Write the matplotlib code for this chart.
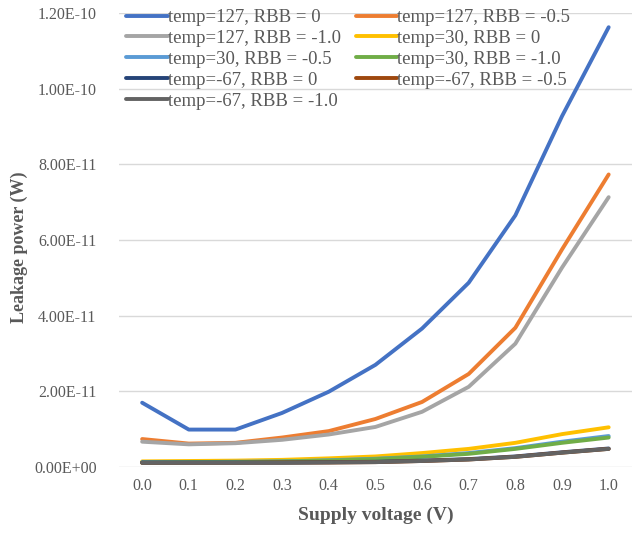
import numpy as np
import matplotlib.pyplot as plt
from matplotlib.ticker import FuncFormatter

plt.rcParams['font.family'] = ['Liberation Serif', 'DejaVu Serif']

voltage = ['0.0', '0.1', '0.2', '0.3', '0.4', '0.5', '0.6', '0.7', '0.8', '0.9', '1.0']

# leakage power in units of 1e-11 W
t127_rbb0 = [1.70, 0.99, 0.99, 1.43, 1.99, 2.70, 3.66, 4.87, 6.65, 9.27, 11.62]
t127_rbb05 = [0.74, 0.62, 0.64, 0.78, 0.95, 1.27, 1.72, 2.46, 3.68, 5.75, 7.73]
t127_rbb10 = [0.67, 0.60, 0.63, 0.72, 0.86, 1.06, 1.46, 2.12, 3.26, 5.27, 7.13]
t30_rbb0 = [0.15, 0.16, 0.17, 0.19, 0.23, 0.28, 0.37, 0.48, 0.64, 0.87, 1.05]
t30_rbb05 = [0.13, 0.13, 0.14, 0.15, 0.18, 0.22, 0.28, 0.37, 0.50, 0.67, 0.82]
t30_rbb10 = [0.12, 0.13, 0.13, 0.15, 0.17, 0.21, 0.27, 0.35, 0.48, 0.64, 0.78]
tm67_rbb0 = [0.12, 0.12, 0.12, 0.12, 0.13, 0.14, 0.17, 0.21, 0.28, 0.39, 0.49]
tm67_rbb05 = [0.11, 0.11, 0.11, 0.12, 0.12, 0.13, 0.16, 0.20, 0.27, 0.38, 0.48]
tm67_rbb10 = [0.11, 0.11, 0.11, 0.11, 0.12, 0.13, 0.16, 0.20, 0.27, 0.38, 0.48]

labels = ['temp=127, RBB = 0', 'temp=127, RBB = -0.5', 'temp=127, RBB = -1.0',
          'temp=30, RBB = 0', 'temp=30, RBB = -0.5', 'temp=30, RBB = -1.0',
          'temp=-67, RBB = 0', 'temp=-67, RBB = -0.5', 'temp=-67, RBB = -1.0']
series = [t127_rbb0, t127_rbb05, t127_rbb10, t30_rbb0, t30_rbb05, t30_rbb10,
          tm67_rbb0, tm67_rbb05, tm67_rbb10]
colors = ['#4472C4', '#ED7D31', '#A5A5A5', '#FFC000', '#5B9BD5', '#70AD47',
          '#264478', '#9E480E', '#636363']

fig = plt.figure(figsize=(6.32, 5.35), dpi=100)
ax = fig.add_axes([0.188, 0.127, 0.812, 0.849])

x = np.arange(len(voltage))
handles = []
for vals, lab, c in zip(series, labels, colors):
    h, = ax.plot(x, np.array(vals) * 1e-11, color=c, linewidth=2.8, label=lab,
                 solid_joinstyle='round', solid_capstyle='round')
    handles.append(h)

ax.set_xlim(-0.5, len(voltage) - 0.5)
ax.set_ylim(0, 1.2e-10)
ax.set_yticks(np.arange(0, 1.21e-10, 2e-11))
ax.yaxis.set_major_formatter(FuncFormatter(lambda v, p: '%.2E' % v))
ax.set_xticks(x)
ax.set_xticklabels(voltage)

ax.grid(axis='y', color='#D9D9D9', linewidth=1)
ax.set_axisbelow(True)
for s in ax.spines.values():
    s.set_visible(False)
ax.tick_params(length=0, labelsize=11.5, colors='#595959', pad=8)
ax.tick_params(axis='y', pad=16)

ax.set_xlabel('Supply voltage (V)', fontsize=14, fontweight='bold', color='#595959', labelpad=9)
ax.set_ylabel('Leakage power (W)', fontsize=13, fontweight='bold', color='#595959', labelpad=4)
ax.yaxis.label.set_y(0.485)

# legend filled row by row (matplotlib fills columns first)
order = [0, 2, 4, 6, 8, 1, 3, 5, 7]
leg = ax.legend([handles[i] for i in order], [labels[i] for i in order],
                loc='upper left', ncol=2, frameon=False, fontsize=13.5,
                handlelength=2.2, handletextpad=0.0, columnspacing=0.8,
                labelspacing=0.2, borderaxespad=0.0, bbox_to_anchor=(0.0, 1.025))
for t in leg.get_texts():
    t.set_color('#595959')

fig.savefig('out.png', dpi=100)
